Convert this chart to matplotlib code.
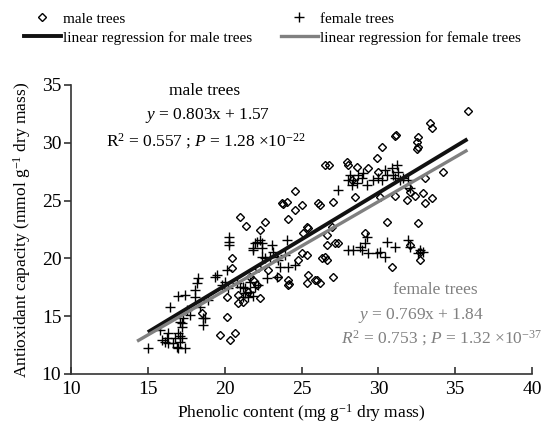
import matplotlib
matplotlib.use("Agg")
import matplotlib.pyplot as plt
from matplotlib.lines import Line2D

plt.rcParams['font.family'] = ['Liberation Serif', 'DejaVu Serif']
plt.rcParams['mathtext.fontset'] = 'custom'
plt.rcParams['mathtext.rm'] = 'Liberation Serif'
plt.rcParams['mathtext.it'] = 'Liberation Serif:italic'

# male trees (diamonds): phenolic content, antioxidant capacity
male_x = [24.57, 23.73, 23.80, 24.05, 25.03, 26.07, 24.57, 21.00, 21.39, 22.62,
          22.30, 24.12, 25.35, 25.09, 20.47, 20.47, 22.82, 23.47, 24.12, 24.12,
          24.20, 24.77, 25.35, 26.33, 25.42, 25.88, 25.35, 26.20, 21.84, 22.10,
          20.15, 20.87, 21.19, 20.87, 22.30, 21.52, 18.52, 20.15, 19.69, 20.34,
          20.67, 26.66, 26.53, 35.83, 33.36, 33.49, 31.08, 31.15, 32.58, 32.51,
          32.58, 32.51, 30.23, 29.91, 26.53, 26.79, 27.96, 28.02, 28.61, 29.32,
          29.97, 28.28, 28.48, 30.10, 31.08, 31.86, 32.38, 31.93, 32.06, 33.03,
          34.20, 32.90, 33.49, 33.03, 27.05, 26.20, 30.56, 32.58, 29.13, 26.98,
          26.66, 26.66, 27.18, 27.37, 32.06, 32.71, 32.71, 30.88, 27.05, 26.01,
          25.42, 25.03, 22.17, 21.65]
male_y = [25.83, 24.79, 24.70, 24.88, 24.62, 24.79, 24.19, 23.58, 22.80, 23.15,
          22.46, 23.41, 22.72, 22.20, 20.03, 19.17, 19.00, 18.39, 18.13, 17.70,
          17.80, 19.86, 20.29, 20.03, 18.56, 18.13, 17.87, 17.87, 18.13, 17.70,
          16.66, 16.83, 16.23, 16.14, 16.57, 17.09, 15.28, 14.93, 13.37, 12.94,
          13.55, 19.86, 20.12, 32.75, 31.71, 31.28, 30.59, 30.67, 30.50, 30.07,
          29.64, 29.46, 29.64, 28.69, 28.08, 28.08, 28.34, 28.08, 27.91, 27.82,
          27.47, 26.78, 25.31, 25.31, 25.40, 25.05, 25.40, 26.18, 25.74, 26.96,
          27.47, 25.66, 25.22, 24.79, 24.88, 24.62, 23.15, 23.06, 22.20, 22.72,
          22.02, 21.16, 21.33, 21.33, 21.16, 20.55, 19.86, 19.26, 18.39, 18.13,
          22.63, 20.47, 19.17, 18.39]

# female trees (crosses)
female_x = [15.01, 15.92, 16.12, 16.31, 16.25, 16.64, 16.96, 17.42, 16.77, 17.22,
            17.09, 17.09, 16.90, 16.96, 16.31, 15.79, 17.22, 17.09, 17.55, 17.74,
            17.29, 17.22, 18.39, 18.59, 18.59, 18.72, 16.44, 16.96, 17.42, 18.07,
            18.07, 18.26, 18.20, 18.91, 19.50, 20.02, 20.21, 19.82, 20.15, 19.37,
            20.28, 20.28, 20.28, 20.80, 21.00, 21.19, 21.32, 21.65, 21.97, 22.17,
            21.32, 21.52, 21.19, 21.65, 21.84, 21.84, 21.97, 22.10, 22.43, 21.84,
            22.43, 23.08, 23.14, 22.30, 24.05, 22.62, 22.43, 22.95, 23.40, 23.92,
            23.47, 23.60, 24.12, 24.57, 22.75, 23.40, 27.37, 28.02, 28.35, 28.28,
            28.15, 28.67, 29.00, 28.93, 29.26, 29.65, 29.97, 30.23, 30.43, 30.56,
            30.88, 30.95, 31.21, 31.28, 31.41, 31.08, 31.60, 31.93, 32.06, 28.61,
            29.26, 29.13, 28.80, 28.35, 28.02, 28.93, 29.32, 30.10, 30.43, 30.56,
            31.08, 31.93, 32.06, 32.71, 32.90, 32.58, 29.91]
female_y = [12.25, 12.94, 12.77, 12.68, 13.11, 12.68, 12.25, 12.25, 13.11, 13.11,
            13.29, 12.77, 12.34, 13.55, 13.55, 13.81, 14.07, 14.50, 15.54, 15.10,
            14.84, 14.41, 15.80, 14.84, 14.24, 14.84, 15.80, 16.75, 16.83, 17.27,
            16.66, 18.30, 17.87, 16.40, 18.56, 17.96, 17.44, 17.70, 19.00, 18.39,
            21.85, 21.42, 21.16, 17.87, 17.53, 17.53, 17.44, 17.96, 17.53, 17.70,
            17.01, 16.66, 16.66, 17.09, 16.75, 20.90, 21.33, 21.42, 21.33, 20.73,
            20.90, 21.16, 20.55, 21.59, 21.59, 20.03, 20.12, 20.12, 20.12, 20.29,
            19.86, 19.26, 19.26, 19.43, 18.30, 18.39, 25.92, 26.78, 26.78, 26.35,
            27.21, 27.21, 27.39, 26.96, 26.35, 26.78, 26.96, 26.78, 27.65, 27.21,
            27.82, 27.21, 28.08, 27.47, 26.78, 26.96, 26.96, 26.78, 26.09, 26.52,
            21.85, 21.33, 20.99, 20.73, 20.73, 20.73, 20.47, 20.55, 20.12, 21.42,
            20.99, 21.59, 20.99, 20.73, 20.55, 20.47, 20.47]

# regression lines (slope, intercept, x range)
male_fit = (0.803, 1.57)
female_fit = (0.769, 1.84)
male_xrange = [15.0, 35.8]
female_xrange = [14.3, 35.8]

x_ticks = [10, 15, 20, 25, 30, 35, 40]
y_ticks = [10, 15, 20, 25, 30, 35]

GREY = '#808080'

fig = plt.figure(figsize=(5.47, 4.30), dpi=100)
ax = fig.add_axes([71 / 547, 56 / 430, 461 / 547, 289 / 430])

ax.plot(male_x, male_y, linestyle='none', marker='D', ms=4.2, mfc='none',
        mec='black', mew=1.0, clip_on=False)
ax.plot(female_x, female_y, linestyle='none', marker='+', ms=7, mec='black',
        mew=1.0, clip_on=False)

mx = male_xrange
ax.plot(mx, [male_fit[0] * v + male_fit[1] for v in mx], color='#111111', lw=2.8,
        solid_capstyle='butt')
fx = female_xrange
ax.plot(fx, [female_fit[0] * v + female_fit[1] for v in fx], color=GREY, lw=2.4,
        solid_capstyle='butt')

ax.set_xlim(10, 40)
ax.set_ylim(10, 35)
ax.set_xticks(x_ticks)
ax.set_yticks(y_ticks)
ax.spines['top'].set_visible(False)
ax.spines['right'].set_visible(False)
for s in ('left', 'bottom'):
    ax.spines[s].set_color('#333333')
    ax.spines[s].set_linewidth(1.2)
ax.tick_params(axis='x', direction='in', length=5, width=1.2, color='#333333',
               labelsize=14, pad=5)
ax.tick_params(axis='y', direction='out', length=5, width=1.2, color='#333333',
               labelsize=14, pad=2)

ax.set_xlabel('Phenolic content (mg g$^{-1}$ dry mass)', fontsize=12.5, labelpad=3)
ax.set_ylabel('Antioxidant capacity (mmol g$^{-1}$ dry mass)', fontsize=12.5,
              labelpad=6)

# annotations
ax.text(18.7, 34.45, 'male trees', fontsize=12.5, ha='center', va='center')
ax.text(18.9, 32.4, '$y$ = 0.803x + 1.57', fontsize=12.5, ha='center', va='center')
ax.text(18.8, 30.15, 'R$^2$ = 0.557 ; $P$ = 1.28 ×10$^{-22}$', fontsize=12.5,
        ha='center', va='center')

ax.text(33.68, 17.25, 'female trees', fontsize=12.5, ha='center', va='center',
        color=GREY)
ax.text(32.8, 15.1, '$y$ = 0.769x + 1.84', fontsize=12.5, ha='center',
        va='center', color=GREY)
ax.text(34.1, 13.1, '$R^2$ = 0.753 ; $P$ = 1.32 ×10$^{-37}$', fontsize=12.5,
        ha='center', va='center', color=GREY)

handles = [
    Line2D([], [], linestyle='none', marker='D', ms=4.2, mfc='none', mec='black',
           mew=1.0),
    Line2D([], [], color='#111111', lw=2.8),
    Line2D([], [], linestyle='none', marker='+', ms=7, mec='black', mew=1.0),
    Line2D([], [], color=GREY, lw=2.4),
]
labels = ['male trees', 'linear regression for male trees', 'female trees',
          'linear regression for female trees']
fig.legend(handles, labels, loc='upper left', bbox_to_anchor=(24 / 547, 1 - 12 / 430),
           ncol=2, frameon=False, fontsize=11, handlelength=2.4,
           handletextpad=0.15, columnspacing=1.9, labelspacing=0.35,
           borderpad=0, borderaxespad=0)

fig.savefig('out.png', dpi=100)
